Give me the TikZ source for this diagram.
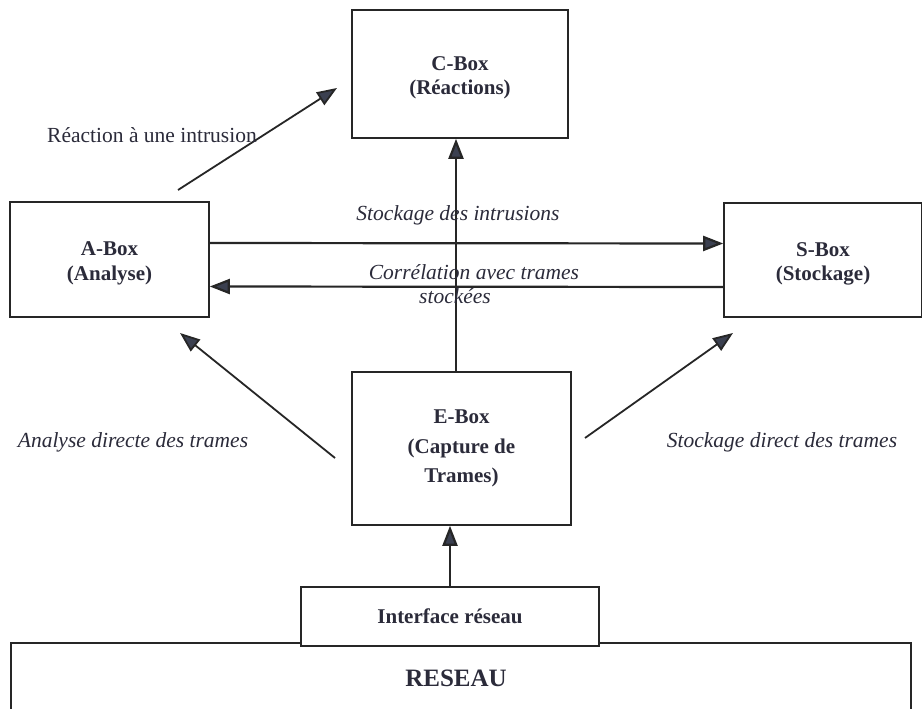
\documentclass[tikz,border=0pt]{standalone}
\usepackage{fontspec}
\setmainfont{Liberation Serif}
\usetikzlibrary{arrows.meta}
\definecolor{ink}{HTML}{2B2B3A}
\definecolor{linec}{HTML}{262626}
\definecolor{headc}{HTML}{3B4050}
\tikzset{
  box/.style={draw=linec, line width=1.6pt, fill=white, align=center, inner sep=0pt,
              font=\fontsize{21}{24.5}\selectfont\bfseries, text=ink},
  boxtext/.style={align=center, inner sep=0pt, text=ink,
              font=\fontsize{21}{24.5}\selectfont\bfseries, yshift=-4pt},
  arr/.style={draw=linec, line width=2.2pt,
              -{Triangle[length=20pt,width=15pt,fill=headc]}},
  thin arr/.style={arr, line width=1.8pt},
  lbl/.style={font=\fontsize{21.5}{24}\selectfont, text=ink, align=center, inner sep=0pt},
  ilbl/.style={lbl, font=\fontsize{21.5}{24}\selectfont\itshape}
}
\begin{document}
\begin{tikzpicture}[x=1pt,y=-1pt]
\useasboundingbox (0,0) rectangle (922,709);
\clip (0,0) rectangle (922,709);
\fill[white] (0,0) rectangle (922,709);

% network at the bottom, cut by the page edge
\node[box, minimum width=900pt, minimum height=100pt,
      anchor=north west] (R) at (10,642) {};
\node[lbl, font=\fontsize{25}{28}\selectfont\bfseries] (Rt) at (456,678) {RESEAU};

% blocks
\node[box, minimum width=216pt, minimum height=128pt,
      label={[boxtext]center:C-Box\\(Réactions)}] (C) at (460,74) {};
\node[box, minimum width=199pt, minimum height=115pt,
      label={[boxtext]center:A-Box\\(Analyse)}] (A) at (109.5,259.5) {};
\node[box, minimum width=198pt, minimum height=114pt,
      label={[boxtext]center:S-Box\\(Stockage)}] (S) at (823,260) {};
\node[box, font=\fontsize{21}{29.5}\selectfont\bfseries,
      minimum width=219pt, minimum height=153pt] (E) at (461.5,448.5) {E-Box\\(Capture de\\Trames)};
\node[box, minimum width=298pt, minimum height=59pt] (I) at (450,616.5) {Interface réseau};

% free ends of the diagonal arrows
\coordinate (r0) at (178,190);
\coordinate (r1) at (337,88);
\coordinate (a0) at (335,458);
\coordinate (a1) at (180,333);
\coordinate (s0) at (585,438);
\coordinate (s1) at (733,333);

% connectors
\draw[arr] ([yshift=16.5pt]A.east) -- ([yshift=16.5pt]S.west);
\draw[arr] ([yshift=-27pt]S.west) -- ([yshift=-27pt]A.east);
\draw[arr] ([xshift=-5.5pt]E.north) -- ([xshift=-4pt]C.south);
\draw[arr] (I.north) -- ([xshift=-11.5pt]E.south);
\draw[thin arr] (r0) -- (r1);
\draw[thin arr] (a0) -- (a1);
\draw[thin arr] (s0) -- (s1);

% labels
\node[lbl] (lr) at (152,135) {Réaction à une intrusion};
\node[ilbl] (ls) at (458,215) {Stockage des intrusions};
\node[ilbl] (lc) at (474,272) {Corrélation avec trames};
\node[ilbl] (lc2) at (455,296) {stockées};
\node[ilbl] (la) at (133,442) {Analyse directe des trames};
\node[ilbl] (ld) at (782,442) {Stockage direct des trames};
\end{tikzpicture}
\end{document}
